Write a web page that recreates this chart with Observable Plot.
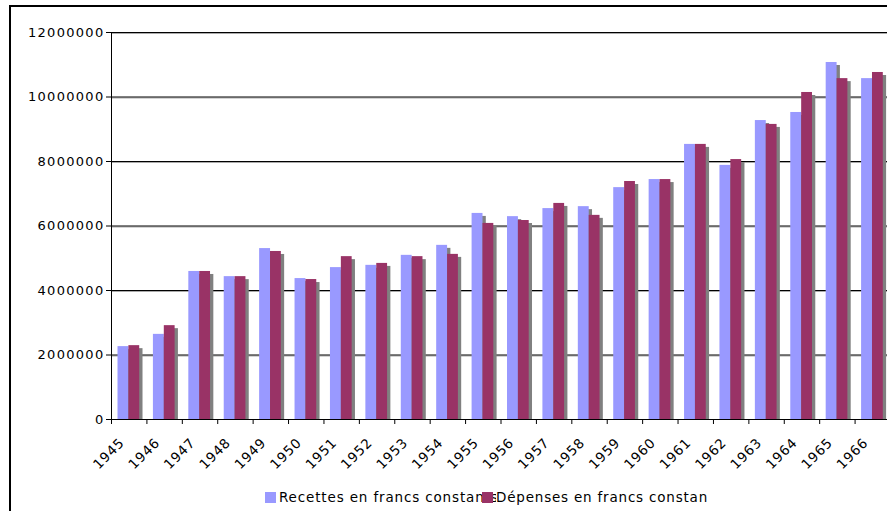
<!DOCTYPE html>
<html>
<head>
<meta charset="utf-8">
<script src="https://cdn.jsdelivr.net/npm/d3@7"></script>
<script src="https://cdn.jsdelivr.net/npm/@observablehq/plot@0.6"></script>
<style>
  html, body { margin: 0; padding: 0; background: #fff; }
  #wrap { position: relative; width: 887px; height: 511px; overflow: hidden; font-family: "DejaVu Sans", Verdana, sans-serif; }
  #border { position: absolute; left: 9px; top: 5px; right: -10px; bottom: -10px; border-left: 2px solid #000; border-top: 2px solid #000; pointer-events: none; }
  g[aria-label="y-axis tick label"] text { letter-spacing: 1.3px; }
  g[aria-label="x-axis tick label"] text { letter-spacing: 0.8px; }
  .leg { position: absolute; font-size: 13.5px; color: #000; letter-spacing: 0.8px; white-space: nowrap; }
  .sw { position: absolute; width: 11px; height: 11px; }
</style>
</head>
<body>
<div id="wrap">
  <div id="chart"></div>
  <div class="sw" style="left:265px; top:492px; background:#9999FF;"></div>
  <div class="leg" style="left:279px; top:489px; letter-spacing:0.85px;">Recettes en francs constants</div>
  <div class="sw" style="left:482px; top:492px; background:#993366; z-index:2;"></div>
  <div class="leg" style="left:496px; top:489px; background:#fff; z-index:1;">Dépenses en francs constan</div>
  <div id="border"></div>
</div>
<script>
const years = [1945,1946,1947,1948,1949,1950,1951,1952,1953,1954,1955,1956,1957,1958,1959,1960,1961,1962,1963,1964,1965,1966];
const recettes = [2260000,2640000,4590000,4430000,5300000,4370000,4710000,4780000,5090000,5400000,6390000,6290000,6540000,6600000,7190000,7440000,8530000,7880000,9270000,9520000,11070000,10570000];
const depenses = [2290000,2910000,4590000,4430000,5210000,4340000,5050000,4840000,5050000,5120000,6080000,6170000,6700000,6330000,7380000,7440000,8530000,8060000,9150000,10140000,10570000,10760000];
const yTicks = [0,2000000,4000000,6000000,8000000,10000000,12000000];

const data = years.map((y, i) => ({year: y, rec: recettes[i], dep: depenses[i]}));

const left = 111, right = 890;
const step = (right - left) / years.length;

const chart = Plot.plot({
  width: 887,
  height: 480,
  marginLeft: 111,
  marginTop: 32,
  marginBottom: 61,
  marginRight: 0,
  x: {type: "band", domain: years, range: [left, right], padding: 0, round: false},
  y: {domain: [0, 12000000]},
  style: {fontFamily: "DejaVu Sans, Verdana, sans-serif", fontSize: "13px", color: "#000", background: "#fff", overflow: "visible"},
  marks: [
    Plot.ruleY(yTicks.slice(1), {stroke: "#aaa", dy: 1}),
    Plot.ruleY(yTicks, {stroke: "#000"}),
    Plot.barY(data, {x: "year", y: "rec", fill: "#808080", insetLeft: 6.5, insetRight: 18, dx: 3.3, dy: 3, clip: true}),
    Plot.barY(data, {x: "year", y: "dep", fill: "#808080", insetLeft: 17.4, insetRight: 7.2, dx: 3.3, dy: 3, clip: true}),
    Plot.barY(data, {x: "year", y: "rec", fill: "#9999FF", insetLeft: 6.5, insetRight: 18}),
    Plot.barY(data, {x: "year", y: "dep", fill: "#993366", insetLeft: 17.4, insetRight: 7.2}),
    Plot.ruleX([years[0]], {y1: 0, y2: 12000000, dx: -step / 2, stroke: "#000"}),
    Plot.axisY(yTicks, {tickSize: 5, tickPadding: 2, tickFormat: d => String(d), label: null, fontSize: 13}),
    Plot.axisX(years, {tickSize: 5, tickFormat: () => "", dx: -step / 2, label: null}),
    Plot.axisX(years, {tickSize: 0, tickRotate: -45, tickPadding: 21, dx: -7, tickFormat: d => String(d), label: null, fontSize: 13.5})
  ]
});
document.getElementById("chart").appendChild(chart);
</script>
</body>
</html>
